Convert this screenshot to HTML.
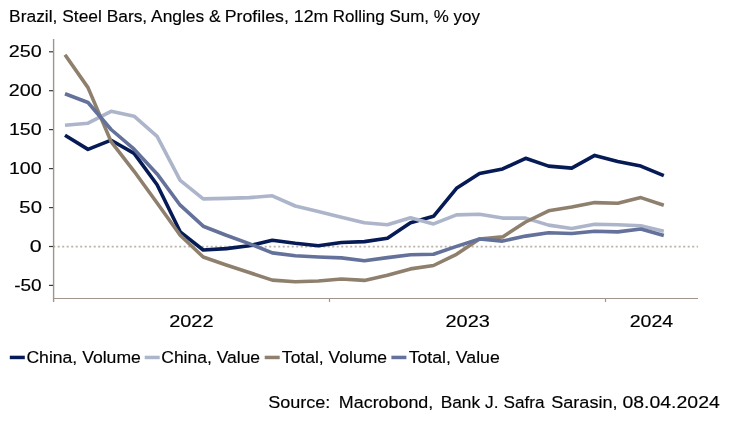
<!DOCTYPE html>
<html><head><meta charset="utf-8"><title>Chart</title>
<style>
html,body{margin:0;padding:0;background:#fff;}
body{width:730px;height:427px;overflow:hidden;}
svg{display:block;}
text{font-family:"Liberation Sans",sans-serif;fill:#000;stroke:#000;stroke-width:0.15px;}
</style></head><body>
<svg width="730" height="427" viewBox="0 0 730 427">
<rect width="730" height="427" fill="#fff"/>
<line x1="53.2" y1="246.7" x2="698" y2="246.7" stroke="#a0958a" stroke-width="1.8" stroke-dasharray="2 2.5" stroke-opacity="0.72"/>
<line x1="53.6" y1="39" x2="53.6" y2="302" stroke="#a0958a" stroke-width="1.4"/>
<line x1="53" y1="298.5" x2="698" y2="298.5" stroke="#a0958a" stroke-width="1.2"/>
<line x1="329.5" y1="298" x2="329.5" y2="302" stroke="#a0958a" stroke-width="1.2"/>
<line x1="605.5" y1="298" x2="605.5" y2="302" stroke="#a0958a" stroke-width="1.2"/>
<line x1="49" y1="51.8" x2="53" y2="51.8" stroke="#3a3a3a" stroke-width="1.2"/>
<line x1="49" y1="90.7" x2="53" y2="90.7" stroke="#3a3a3a" stroke-width="1.2"/>
<line x1="49" y1="129.6" x2="53" y2="129.6" stroke="#3a3a3a" stroke-width="1.2"/>
<line x1="49" y1="168.6" x2="53" y2="168.6" stroke="#3a3a3a" stroke-width="1.2"/>
<line x1="49" y1="207.6" x2="53" y2="207.6" stroke="#3a3a3a" stroke-width="1.2"/>
<line x1="49" y1="246.5" x2="53" y2="246.5" stroke="#3a3a3a" stroke-width="1.2"/>
<line x1="49" y1="285.4" x2="53" y2="285.4" stroke="#3a3a3a" stroke-width="1.2"/>
<polyline fill="none" stroke="#061a55" stroke-width="3.6" stroke-linejoin="round" stroke-linecap="butt" points="65.0,135.2 88.0,149.4 111.1,140.2 134.1,153.4 157.1,184.8 180.2,231.8 203.2,250.0 226.2,248.6 249.2,245.7 272.3,240.2 295.3,243.3 318.3,245.8 341.4,242.5 364.4,241.6 387.4,238.3 410.5,222.8 433.5,216.3 456.5,188.3 479.5,173.5 502.6,168.9 525.6,158.3 548.6,166.1 571.7,168.1 594.7,155.4 617.7,161.6 640.8,166.1 663.8,175.7"/>
<polyline fill="none" stroke="#adb5ca" stroke-width="3.6" stroke-linejoin="round" stroke-linecap="butt" points="65.0,125.3 88.0,123.2 111.1,111.3 134.1,116.2 157.1,136.4 180.2,180.4 203.2,198.9 226.2,198.4 249.2,197.6 272.3,195.8 295.3,206.0 318.3,211.6 341.4,217.2 364.4,222.8 387.4,224.8 410.5,217.8 433.5,223.9 456.5,214.9 479.5,214.2 502.6,218.1 525.6,218.1 548.6,225.1 571.7,228.5 594.7,224.3 617.7,224.8 640.8,225.7 663.8,231.3"/>
<polyline fill="none" stroke="#8f806e" stroke-width="3.6" stroke-linejoin="round" stroke-linecap="butt" points="65.0,54.7 88.0,87.6 111.1,141.6 134.1,171.3 157.1,203.0 180.2,235.2 203.2,257.0 226.2,265.0 249.2,272.5 272.3,280.1 295.3,281.8 318.3,281.0 341.4,279.0 364.4,280.4 387.4,275.3 410.5,268.9 433.5,265.5 456.5,254.3 479.5,239.0 502.6,236.9 525.6,222.0 548.6,210.8 571.7,207.0 594.7,202.6 617.7,203.2 640.8,197.6 663.8,205.2"/>
<polyline fill="none" stroke="#64719a" stroke-width="3.6" stroke-linejoin="round" stroke-linecap="butt" points="65.0,93.8 88.0,102.5 111.1,129.5 134.1,149.2 157.1,173.9 180.2,205.2 203.2,226.2 226.2,235.2 249.2,243.6 272.3,252.9 295.3,255.7 318.3,257.0 341.4,257.9 364.4,260.7 387.4,257.6 410.5,254.8 433.5,254.3 456.5,246.4 479.5,239.0 502.6,241.1 525.6,236.1 548.6,232.7 571.7,233.5 594.7,231.3 617.7,231.9 640.8,229.0 663.8,235.5"/>
<rect x="9.8" y="355.7" width="15" height="3.5" fill="#061a55"/>
<rect x="144.7" y="355.7" width="15" height="3.5" fill="#adb5ca"/>
<rect x="264.7" y="355.7" width="15" height="3.5" fill="#8f806e"/>
<rect x="391.4" y="355.7" width="15" height="3.5" fill="#64719a"/>
<text x="9.13" y="21.5" font-size="16.3" textLength="211.49" lengthAdjust="spacingAndGlyphs">Brazil, Steel Bars, Angles &amp;</text>
<text x="224.7" y="21.5" font-size="16.3" textLength="103.75" lengthAdjust="spacingAndGlyphs">Profiles, 12m</text>
<text x="332.87" y="21.5" font-size="16.3" textLength="147.03" lengthAdjust="spacingAndGlyphs">Rolling Sum, % yoy</text>
<text x="8.82" y="57.3" font-size="16" textLength="32.94" lengthAdjust="spacingAndGlyphs">250</text>
<text x="8.82" y="96.3" font-size="16" textLength="32.94" lengthAdjust="spacingAndGlyphs">200</text>
<text x="8.95" y="135.2" font-size="16" textLength="32.67" lengthAdjust="spacingAndGlyphs">150</text>
<text x="8.95" y="174.2" font-size="16" textLength="32.67" lengthAdjust="spacingAndGlyphs">100</text>
<text x="19.39" y="213.1" font-size="16" textLength="22.54" lengthAdjust="spacingAndGlyphs">50</text>
<text x="29.85" y="252.1" font-size="16" textLength="11.91" lengthAdjust="spacingAndGlyphs">0</text>
<text x="14.22" y="291" font-size="16" textLength="27.45" lengthAdjust="spacingAndGlyphs">-50</text>
<text x="169.2" y="326.8" font-size="16.3" textLength="44.29" lengthAdjust="spacingAndGlyphs">2022</text>
<text x="445.54" y="326.8" font-size="16.3" textLength="44.34" lengthAdjust="spacingAndGlyphs">2023</text>
<text x="629.74" y="326.8" font-size="16.3" textLength="43.52" lengthAdjust="spacingAndGlyphs">2024</text>
<text x="26.4" y="362.7" font-size="16.3" textLength="114.46" lengthAdjust="spacingAndGlyphs">China, Volume</text>
<text x="161.28" y="362.7" font-size="16.3" textLength="98.83" lengthAdjust="spacingAndGlyphs">China, Value</text>
<text x="281.88" y="362.7" font-size="16.3" textLength="105.13" lengthAdjust="spacingAndGlyphs">Total, Volume</text>
<text x="408.67" y="362.7" font-size="16.3" textLength="91.1" lengthAdjust="spacingAndGlyphs">Total, Value</text>
<text x="268.2" y="408.1" font-size="16.8" textLength="62.19" lengthAdjust="spacingAndGlyphs">Source:</text>
<text x="338.85" y="408.1" font-size="16.8" textLength="94.44" lengthAdjust="spacingAndGlyphs">Macrobond,</text>
<text x="440.69" y="408.1" font-size="16.8" textLength="57.76" lengthAdjust="spacingAndGlyphs">Bank J.</text>
<text x="503.62" y="408.1" font-size="16.8" textLength="41.03" lengthAdjust="spacingAndGlyphs">Safra</text>
<text x="551.18" y="408.1" font-size="16.8" textLength="66.4" lengthAdjust="spacingAndGlyphs">Sarasin,</text>
<text x="622.4" y="408.1" font-size="16.8" textLength="97.4" lengthAdjust="spacingAndGlyphs">08.04.2024</text>
</svg></body></html>
